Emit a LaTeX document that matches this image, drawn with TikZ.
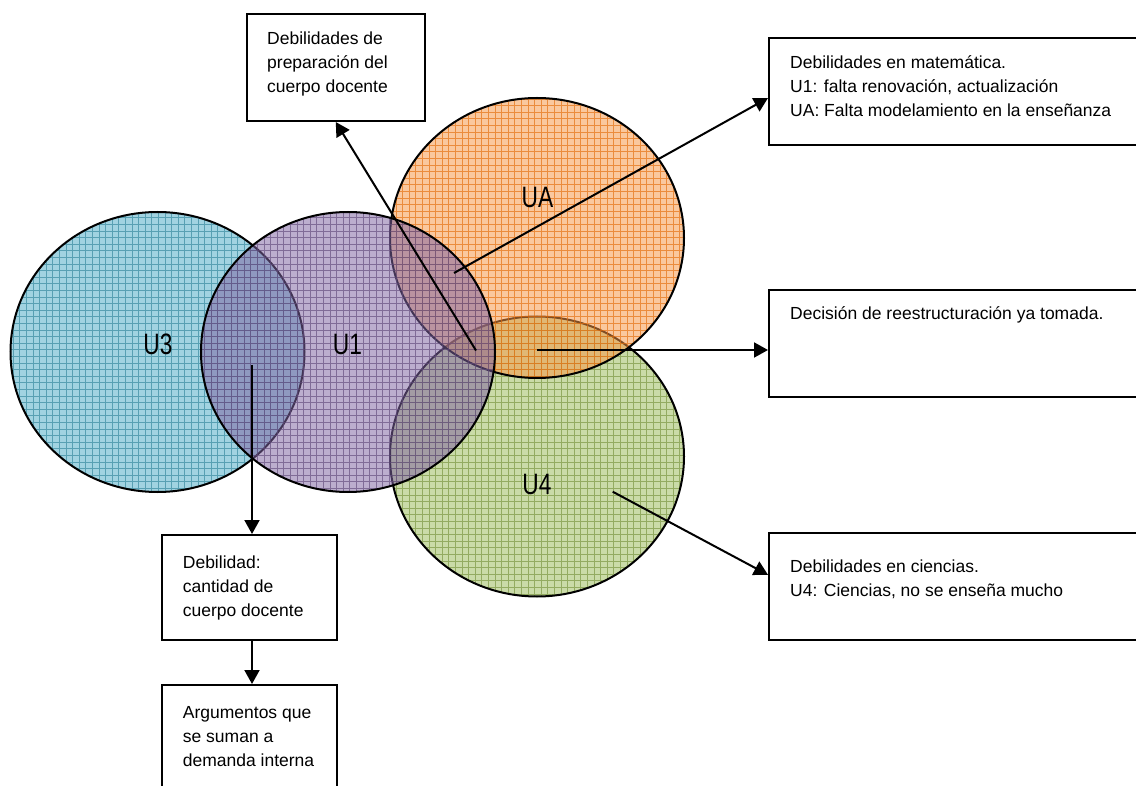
\documentclass[tikz,border=0pt]{standalone}
\usepackage{fontspec}
\usepackage{graphicx}
\setmainfont{Liberation Sans}
\usetikzlibrary{arrows.meta}

\definecolor{tealfill}{RGB}{75,172,198}
\definecolor{tealline}{RGB}{49,133,155}
\definecolor{purpfill}{RGB}{128,100,162}
\definecolor{purpline}{RGB}{96,74,123}
\definecolor{orgfill}{RGB}{247,150,70}
\definecolor{orgline}{RGB}{228,108,10}
\definecolor{grnfill}{RGB}{155,187,89}
\definecolor{grnline}{RGB}{118,146,60}

\tikzset{
  boxst/.style={draw, line width=2pt, rectangle, inner sep=0pt},
  txt/.style={anchor=base west, inner sep=0pt, font=\fontsize{17.5}{24}\selectfont},
  setlabel/.style={anchor=base, inner sep=0pt, font=\fontsize{29.5}{30}\selectfont},
  conn/.style={line width=2pt, -{Triangle[length=14pt,width=15pt]}},
  rim/.style={line width=2pt},
}

% one set of the diagram: centre x, centre y, fill colour, grid colour
\newcommand\vennset[4]{%
  \begin{scope}
    \clip (#1,#2) ellipse [x radius=147, y radius=140];
    \fill[#3, fill opacity=0.52] (#1,#2) ellipse [x radius=147, y radius=140];
    \draw[#4, line width=0.7pt, opacity=0.65, step=6.6pt]
      (#1-150,#2+150) grid (#1+150,#2-150);
  \end{scope}
  \draw[rim] (#1,#2) ellipse [x radius=147, y radius=140];
}

\begin{document}
\begin{tikzpicture}[x=1pt,y=-1pt]
  \useasboundingbox (0,0) rectangle (1136,786);
  \fill[white] (0,0) rectangle (1136,786);

  % the four sets, back to front
  \vennset{537}{456.5}{grnfill}{grnline}
  \vennset{537}{238}{orgfill}{orgline}
  \vennset{157.5}{352}{tealfill}{tealline}
  \vennset{348}{352}{purpfill}{purpline}

  \node[setlabel] (lu3) at (158,355) {\scalebox{0.77}[1]{U3}};
  \node[setlabel] (lu1) at (347.5,355) {\scalebox{0.77}[1]{U1}};
  \node[setlabel] (lua) at (537.5,207.3) {\scalebox{0.77}[1]{UA}};
  \node[setlabel] (lu4) at (537,494) {\scalebox{0.77}[1]{U4}};

  % boxes
  \node[boxst, minimum width=178.5pt, minimum height=107pt] (prep) at (335.75,67.5) {};
  \node[boxst, minimum width=381pt, minimum height=107pt] (mat) at (959.5,91.5) {};
  \node[boxst, minimum width=381pt, minimum height=107pt] (dec) at (959.5,343.5) {};
  \node[boxst, minimum width=381pt, minimum height=107pt] (cien) at (959.5,586.5) {};
  \node[boxst, minimum width=175pt, minimum height=104.5pt] (deb) at (249.5,587.25) {};
  \node[boxst, minimum width=175pt, minimum height=115pt] (arg) at (249.5,742.5) {};

  % box texts
  \node[txt] (tprep) at (267,45) {\begin{tabular}[t]{@{}l@{}}Debilidades de\\preparación del\\cuerpo docente\end{tabular}};
  \node[txt] (tmat) at (790,68.3) {\begin{tabular}[t]{@{}l@{}}Debilidades en matemática.\\U1: falta renovación, actualización\\UA: Falta modelamiento en la enseñanza\end{tabular}};
  \node[txt] (tdec) at (790,320) {Decisión de reestructuración ya tomada.};
  \node[txt] (tcien) at (790,572) {\begin{tabular}[t]{@{}l@{}}Debilidades en ciencias.\\U4: Ciencias, no se enseña mucho\end{tabular}};
  \node[txt] (tdeb) at (182.7,568) {\begin{tabular}[t]{@{}l@{}}Debilidad:\\cantidad de\\cuerpo docente\end{tabular}};
  \node[txt] (targ) at (182.7,718.3) {\begin{tabular}[t]{@{}l@{}}Argumentos que\\se suman a\\demanda interna\end{tabular}};

  % connectors
  \coordinate (c3) at (252,365);
  \coordinate (cprep) at (476,350.5);
  \coordinate (cmat) at (454,273);
  \coordinate (cdec) at (537,350);
  \coordinate (c4) at (612.7,491.7);

  \draw[conn] (c3) -- (c3 |- deb.north);
  \draw[conn] (c3 |- deb.south) -- (c3 |- arg.north);
  \draw[conn] (cprep) -- (prep.south);
  \draw[conn] (cmat) -- ([yshift=-6.5pt]mat.west);
  \draw[conn] (cdec) -- (cdec -| dec.west);
  \draw[conn] (c4) -- ([yshift=11.7pt]cien.west);
\end{tikzpicture}
\end{document}
